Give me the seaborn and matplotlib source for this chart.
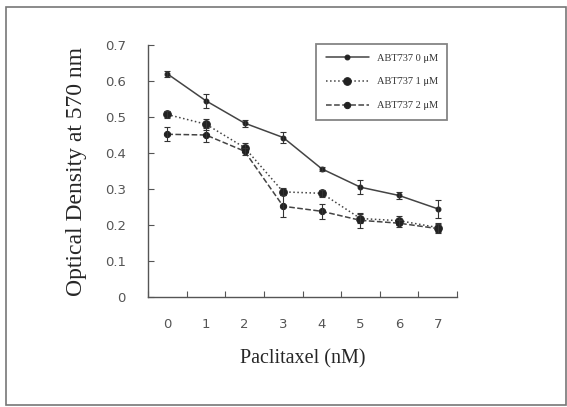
import numpy as np
import pandas as pd
import matplotlib
matplotlib.use("Agg")
import matplotlib.pyplot as plt
import seaborn as sns
from matplotlib.patches import Rectangle

doses = [0, 1, 2, 3, 4, 5, 6, 7]
series_names = ["ABT737 0 μM", "ABT737 1 μM", "ABT737 2 μM"]
od_a = [0.62, 0.545, 0.483, 0.443, 0.356, 0.305, 0.282, 0.245]
od_b = [0.507, 0.48, 0.415, 0.292, 0.288, 0.218, 0.212, 0.193]
od_c = [0.452, 0.45, 0.405, 0.252, 0.238, 0.213, 0.205, 0.19]
err_a = [0.008, 0.02, 0.01, 0.015, 0.006, 0.02, 0.01, 0.025]
err_b = [0.01, 0.015, 0.012, 0.01, 0.01, 0.012, 0.012, 0.012]
err_c = [0.02, 0.02, 0.01, 0.03, 0.02, 0.02, 0.01, 0.012]

rows = []
for name, vals in zip(series_names, [od_a, od_b, od_c]):
    for d, v in zip(doses, vals):
        rows.append({"dose": d, "od": v, "group": name})
df = pd.DataFrame(rows)

sns.set_style("ticks")
plt.rcParams["font.family"] = ["DejaVu Sans"]

fig = plt.figure(figsize=(5.67, 4.07), dpi=100)
ax = fig.add_axes([148 / 567, 1 - 297 / 407, 309 / 567, 252 / 407])

line_col = "#444444"
styles = [("-", 3.5), (":", 5.5), ("--", 4.5)]
errs = [err_a, err_b, err_c]
for (ls, ms), name, e in zip(styles, series_names, errs):
    sub = df[df["group"] == name]
    sns.lineplot(data=sub, x="dose", y="od", ax=ax, color=line_col, linestyle=ls,
                 marker="o", markersize=ms, markeredgecolor="#222222",
                 markerfacecolor="#222222", linewidth=1.1, label=name)
    ax.errorbar(sub["dose"], sub["od"], yerr=e, fmt="none", ecolor="#333333",
                elinewidth=0.8, capsize=2.5, capthick=0.8)

ax.set_xlim(-0.5, 7.5)
ax.set_ylim(0, 0.7)
ax.set_xticks(np.arange(-0.5, 8.0, 1.0))
ax.set_xticklabels([])
ax.set_xticks(doses, minor=True)
ax.set_xticklabels([str(d) for d in doses], minor=True)
ax.tick_params(axis="x", which="major", direction="in", length=4, color="#555555")
ax.tick_params(axis="x", which="minor", length=0, pad=15, labelsize=9.5, labelcolor="#555555")
ax.set_yticks(np.arange(0, 0.71, 0.1))
ax.set_yticklabels(["0"] + ["%.1f" % v for v in np.arange(0.1, 0.71, 0.1)])
ax.tick_params(axis="y", direction="in", length=4, pad=16, labelsize=9.5,
               color="#555555", labelcolor="#555555")
for s in ["top", "right"]:
    ax.spines[s].set_visible(False)
for s in ["left", "bottom"]:
    ax.spines[s].set_color("#555555")
    ax.spines[s].set_linewidth(1.0)

ax.set_xlabel("Paclitaxel (nM)", family="Liberation Serif", fontsize=14.5, labelpad=13)
ax.set_ylabel("Optical Density at 570 nm", family="Liberation Serif", fontsize=17, labelpad=13)

leg = ax.legend(loc="upper left", bbox_to_anchor=(163 / 309, 1.025), frameon=True,
                fancybox=False, edgecolor="#666666", fontsize=7.5, handlelength=4.2,
                labelspacing=1.4, borderpad=0.9, handletextpad=0.7)
leg.get_frame().set_linewidth(1.3)
for t in leg.get_texts():
    t.set_family("Liberation Serif")
    t.set_color("#333333")

fig.patches.append(Rectangle((6 / 567, 2 / 407), 560 / 567, 398 / 407,
                             transform=fig.transFigure, fill=False,
                             edgecolor="#777777", linewidth=1.2))

fig.savefig("out.png", dpi=100)
